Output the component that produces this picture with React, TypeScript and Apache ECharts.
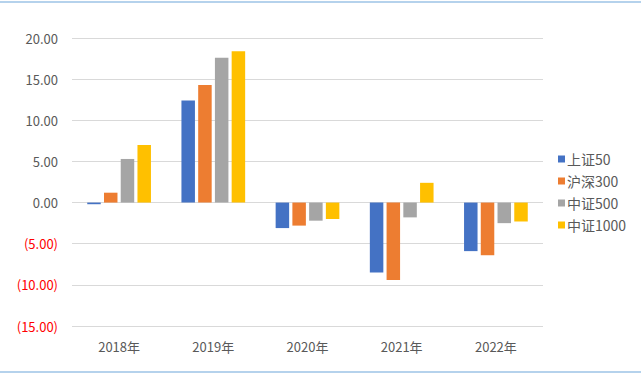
import React, { useEffect, useRef } from "react";
import * as echarts from "echarts";

const categories = ["2018年", "2019年", "2020年", "2021年", "2022年"];
const seriesNames = ["上证50", "沪深300", "中证500", "中证1000"];
const sz50 = [-0.2, 12.4, -3.1, -8.5, -5.9];
const hs300 = [1.2, 14.3, -2.8, -9.4, -6.4];
const zz500 = [5.3, 17.6, -2.2, -1.8, -2.5];
const zz1000 = [7.0, 18.4, -2.0, 2.4, -2.3];
const colors = ["#4472C4", "#ED7D31", "#A5A5A5", "#FFC000"];

export default function App() {
  const ref = useRef<HTMLDivElement>(null);
  useEffect(() => {
    const chart = echarts.init(ref.current!, null, { renderer: "svg" });
    const font = "'Noto Sans CJK SC', 'Noto Sans', sans-serif";
    const data = [sz50, hs300, zz500, zz1000];
    chart.setOption({
      animation: false,
      backgroundColor: "#fff",
      color: colors,
      textStyle: { fontFamily: font },
      grid: { left: 72, right: 98, top: 38, bottom: 50 },
      legend: {
        orient: "vertical",
        left: 553,
        top: 147,
        itemWidth: 7,
        itemHeight: 7,
        itemGap: 8,
        icon: "rect",
        textStyle: { fontSize: 14, color: "#595959", fontFamily: font, padding: [0, 0, 0, -3] },
        data: seriesNames,
      },
      xAxis: {
        type: "category",
        data: categories,
        axisLine: { show: false },
        axisTick: { show: false },
        axisLabel: { color: "#595959", fontSize: 13, margin: 14, fontFamily: font },
        splitLine: { show: false },
      },
      yAxis: {
        type: "value",
        min: -15,
        max: 20,
        interval: 5,
        axisLine: { show: false },
        axisTick: { show: false },
        splitLine: { lineStyle: { color: "#D9D9D9", width: 1 } },
        axisLabel: {
          fontSize: 13,
          margin: 14,
          fontFamily: font,
          formatter: (v: number) =>
            v < 0 ? "{neg|(" + Math.abs(v).toFixed(2) + ")}" : "{pos|" + v.toFixed(2) + "}",
          rich: {
            neg: { color: "#FF0000", fontSize: 13, fontFamily: font },
            pos: { color: "#595959", fontSize: 13, fontFamily: font },
          },
        },
      },
      series: seriesNames.map((name, i) => ({
        name,
        type: "bar",
        data: data[i],
        barWidth: 13.5,
        barGap: "24%",
        barMinHeight: 1.5,
        itemStyle: { color: colors[i] },
      })),
      graphic: [
        { type: "line", shape: { x1: 0, y1: 2, x2: 641, y2: 2 }, style: { stroke: "#9DC3E6", lineWidth: 1.5 } },
        { type: "line", shape: { x1: 0, y1: 372, x2: 641, y2: 372 }, style: { stroke: "#9DC3E6", lineWidth: 1.5 } },
      ],
    });
    return () => chart.dispose();
  }, []);
  return <div ref={ref} style={{ position: "fixed", left: 0, top: 0, width: 641, height: 376 }} />;
}
